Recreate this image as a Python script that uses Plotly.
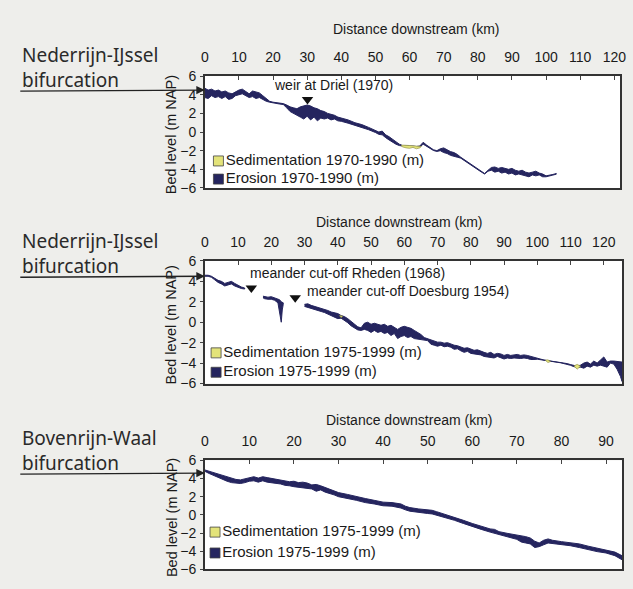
import plotly.graph_objects as go

W, H = 633, 589

# ---------------- Panel 1: Nederrijn-IJssel, 1970-1990 ----------------
km_1 = [0, 1, 2, 3, 4, 5, 6, 7, 8, 9, 10, 11, 12, 13, 14, 15, 16, 17, 18, 19,
        20, 21, 22, 23, 24, 25, 26, 27, 28, 29, 30, 31, 32, 33, 34, 35, 36, 37, 38, 39,
        40, 42, 44, 45, 46, 48, 50, 51, 52, 53, 54, 55, 56, 57, 58, 59, 60, 61, 62, 63,
        64, 65, 66, 67, 68, 69, 70, 71, 72, 73, 74, 75, 76, 77, 78, 79, 80, 81, 82, 83,
        84, 85, 86, 87, 88, 89, 90, 91, 92, 93, 94, 95, 96, 97, 98, 99, 100, 101, 102, 103]
top_1 = [4.7, 4.5, 4.6, 4.4, 4.5, 4.3, 4.4, 4.2, 4.1, 4.3, 4.5, 4.6, 4.3, 4.1, 4.4, 4.3, 4.2, 3.9, 3.6, 3.3,
         3.2, 3.15, 3.1, 3.05, 2.9, 2.7, 2.6, 2.5, 2.7, 2.8, 2.9, 2.8, 2.6, 2.5, 2.3, 2.2, 2.0, 1.9, 1.8, 1.6,
         1.5, 1.3, 1.0, 0.9, 0.8, 0.5, 0.2, 0.0, 0.1, -0.3, -0.5, -0.8, -1.0, -1.3, -1.45, -1.5, -1.5, -1.5, -1.55, -1.5,
         -1.1, -1.4, -1.7, -1.9, -2.0, -1.8, -1.7, -1.9, -2.1, -2.2, -2.4, -2.7, -2.95, -3.2, -3.45, -3.7, -3.95, -4.2, -4.45, -4.1,
         -3.8, -3.75, -3.9, -3.8, -3.9, -4.0, -3.9, -4.1, -4.2, -4.1, -4.3, -4.4, -4.3, -4.2, -4.4, -4.5, -4.7, -4.65, -4.55, -4.45]
bot_1 = [3.7, 3.6, 3.9, 3.7, 3.8, 3.6, 3.8, 3.5, 3.6, 3.9, 4.0, 4.1, 3.9, 3.7, 3.8, 3.6, 3.7, 3.5, 3.3, 3.2,
         3.1, 3.05, 3.0, 2.95, 2.6, 2.2, 2.0, 1.8, 1.6, 1.4, 1.7, 1.3, 1.6, 1.2, 1.5, 1.4, 1.5, 1.3, 1.4, 1.2,
         1.15, 0.95, 0.75, 0.6, 0.5, 0.25, -0.05, -0.25, -0.3, -0.6, -0.85, -1.1, -1.3, -1.45, -1.5, -1.55, -1.55, -1.55, -1.6, -1.6,
         -1.3, -1.5, -1.78, -1.98, -2.08, -2.0, -2.2, -2.3, -2.5, -2.6, -2.7, -2.8, -3.03, -3.28, -3.53, -3.78, -4.03, -4.28, -4.5, -4.2,
         -4.1, -4.3, -4.2, -4.4, -4.3, -4.5, -4.4, -4.6, -4.5, -4.6, -4.7, -4.8, -4.6, -4.7, -4.6, -4.8, -4.8, -4.72, -4.62, -4.52]
sed_km_1 = [57.5, 58, 59, 60, 61, 62, 63, 63.5]
sed_top_1 = [-1.45, -1.4, -1.42, -1.45, -1.4, -1.45, -1.5, -1.55]
sed_bot_1 = [-1.45, -1.6, -1.7, -1.75, -1.65, -1.8, -1.7, -1.55]

# ---------------- Panel 2: Nederrijn-IJssel, 1975-1999 (None = no data) ----------------
km_2 = [0, 1, 2, 3, 4, 5, 6, 7, 8, 9, 10, 11, 12, None,
        17.5, 18, 19, 20, 21, 22, 22.5, 23, 23.3, 23.6, None,
        30, 31, 32, 33, 34, 35, 36, 37, 38, 39, 40, 41, 42, 43, 44, 45, 46, 47, 48, 49,
        50, 51, 52, 53, 54, 55, 56, 57, 58, 59, 60, 61, 62, 63, 64, 65, 66, 67, 68, 69,
        70, 71, 72, 73, 74, 75, 76, 77, 78, 79, 80, 81, 82, 83, 84, 85, 86, 87, 88, 89,
        90, 91, 92, 93, 94, 95, 96, 97, 98, 99, 100, 101, 102, 103, 104, 105, 106, 107, 108, 109,
        110, 111, 112, 113, 114, 115, 116, 117, 118, 119, 120, 121, 122, 123, 124, 125, 125.5]
top_2 = [4.6, 4.6, 4.5, 4.3, 4.1, 4.0, 3.8, 3.9, 4.0, 3.8, 3.6, 3.45, 3.35, None,
         2.55, 2.5, 2.45, 2.5, 2.4, 2.3, 2.2, 2.0, 1.9, 1.9, None,
         1.75, 1.8, 1.65, 1.55, 1.5, 1.4, 1.25, 1.15, 1.0, 0.9, 0.85, 0.65, 0.55, 0.35, 0.1, -0.2, -0.45, -0.55, -0.1, 0.0,
         -0.2, -0.1, -0.2, -0.3, -0.2, -0.4, -0.3, -0.5, -0.7, -0.5, -0.4, -0.5, -0.6, -0.8, -1.0, -1.2, -1.5, -1.6, -1.75, -1.85,
         -1.95, -1.95, -2.05, -2.0, -2.15, -2.25, -2.3, -2.45, -2.55, -2.5, -2.65, -2.75, -2.7, -2.85, -2.95, -3.05, -2.95, -3.15, -3.05, -3.1,
         -3.25, -3.15, -3.25, -3.2, -3.15, -3.25, -3.2, -3.25, -3.35, -3.45, -3.55, -3.6, -3.7, -3.75, -3.8, -3.8, -3.85, -3.9, -3.95, -4.05,
         -4.15, -4.25, -4.3, -4.2, -4.0, -3.9, -4.1, -3.8, -4.0, -3.7, -3.4, -3.9, -3.8, -3.8, -3.85, -3.85, -3.9]
bot_2 = [4.5, 4.5, 4.4, 4.15, 3.9, 3.75, 3.55, 3.65, 3.75, 3.55, 3.4, 3.3, 3.25, None,
         2.4, 2.3, 2.25, 2.25, 2.15, 1.9, 0.8, 0.0, 1.2, 1.75, None,
         1.55, 1.45, 1.35, 1.25, 1.15, 1.05, 0.95, 0.85, 0.7, 0.5, 0.35, 0.4, 0.15, -0.05, -0.35, -0.55, -0.75, -0.8, -0.7, -0.8,
         -1.0, -0.8, -1.0, -0.9, -1.1, -1.0, -1.3, -1.1, -1.6, -1.4, -1.3, -1.5, -1.4, -1.6, -1.6, -1.65, -1.75, -1.8, -2.15, -2.25,
         -2.35, -2.25, -2.4, -2.35, -2.45, -2.65, -2.6, -2.8, -2.95, -2.85, -3.05, -3.1, -3.15, -3.2, -3.35, -3.4, -3.45, -3.5, -3.35, -3.45,
         -3.6, -3.5, -3.55, -3.5, -3.5, -3.55, -3.5, -3.55, -3.65, -3.65, -3.62, -3.67, -3.77, -3.82, -3.87, -3.87, -3.92, -3.97, -4.02, -4.12,
         -4.22, -4.35, -4.4, -4.4, -4.5, -4.3, -4.4, -4.2, -4.3, -4.2, -4.3, -4.4, -4.0, -4.1, -4.6, -5.3, -5.8]
sed_km_2 = [40.5, 41.0, 41.5, None, 102.4, 103.2, 104.0, None, 111.0, 112.0, 113.0]
sed_top_2 = [0.65, 0.65, 0.6, None, -3.72, -3.68, -3.85, None, -4.28, -4.12, -4.3]
sed_bot_2 = [0.65, 0.45, 0.6, None, -3.72, -3.95, -3.85, None, -4.28, -4.6, -4.3]

# ---------------- Panel 3: Bovenrijn-Waal, 1975-1999 ----------------
km_3 = [0, 1, 2, 3, 4, 5, 6, 7, 8, 9, 10, 11, 12, 13, 14, 15, 16, 17, 18, 19,
        20, 21, 22, 23, 24, 25, 26, 27, 28, 29, 30, 32, 34, 36, 38, 40, 42, 44, 45, 46,
        48, 50, 51, 52, 54, 56, 58, 60, 62, 64, 65, 66, 68, 70, 71, 72, 73, 74, 75, 76,
        77, 78, 80, 82, 84, 86, 88, 90, 92, 93.6]
top_3 = [4.95, 4.8, 4.6, 4.45, 4.3, 4.15, 4.0, 3.9, 3.85, 3.95, 4.1, 4.2, 4.05, 4.2, 4.1, 4.0, 3.9, 3.8, 3.75, 3.65,
         3.7, 3.55, 3.6, 3.5, 3.3, 3.35, 3.2, 3.0, 2.8, 2.6, 2.45, 2.25, 2.0, 1.8, 1.6, 1.4, 1.35, 1.2, 0.95, 0.8,
         0.65, 0.6, 0.5, 0.35, 0.05, -0.3, -0.6, -0.95, -1.25, -1.55, -1.6, -1.85, -2.05, -2.2, -2.3, -2.4, -2.55, -2.9, -3.1, -2.8,
         -2.65, -2.8, -2.95, -3.05, -3.2, -3.45, -3.65, -3.85, -4.1, -4.5]
bot_3 = [4.8, 4.55, 4.3, 4.1, 3.9, 3.7, 3.55, 3.5, 3.45, 3.55, 3.7, 3.75, 3.6, 3.75, 3.6, 3.5, 3.45, 3.4, 3.25, 3.2,
         3.1, 3.05, 2.95, 2.9, 2.85, 2.6, 2.75, 2.5, 2.35, 2.2, 2.0, 1.8, 1.6, 1.35, 1.2, 1.0, 0.95, 0.75, 0.55, 0.4,
         0.25, 0.15, 0.1, -0.05, -0.3, -0.6, -0.95, -1.3, -1.6, -1.9, -2.1, -2.2, -2.45, -2.7, -3.0, -3.1, -3.2, -3.6, -3.5, -3.3,
         -3.1, -3.15, -3.3, -3.4, -3.6, -3.8, -4.05, -4.2, -4.5, -4.95]

# ---------------- Text / ticks ----------------
ticks_1 = [0, 10, 20, 30, 40, 50, 60, 70, 80, 90, 100, 110, 120]
ticks_2 = [0, 10, 20, 30, 40, 50, 60, 70, 80, 90, 100, 110, 120]
ticks_3 = [0, 10, 20, 30, 40, 50, 60, 70, 80, 90]
y_ticks = [-6, -4, -2, 0, 2, 4, 6]
headings = [("Nederrijn-IJssel", "bifurcation"), ("Nederrijn-IJssel", "bifurcation"),
            ("Bovenrijn-Waal", "bifurcation")]
legend_sed = ["Sedimentation 1970-1990 (m)", "Sedimentation 1975-1999 (m)", "Sedimentation 1975-1999 (m)"]
legend_ero = ["Erosion 1970-1990 (m)", "Erosion 1975-1999 (m)", "Erosion 1975-1999 (m)"]

BG = "#eeeeeb"
NAVY = "#25255f"
YELLOW = "#e3e37a"
TXT = "#1a1a1a"
FONT = "Liberation Sans, Arial, sans-serif"
HFONT = "Noto Sans, Open Sans, sans-serif"

# panel geometry in window pixels (left, right, top, bottom)
boxes = [(204, 626, 70, 185), (204, 628, 260, 386), (204, 628, 465, 577)]
xmax = [121.7, 125.5, 93.6]


def px(x):
    return x / W


def py(y):
    return 1 - y / H


def segments(xs, ts, bs):
    out, cx, ct, cb = [], [], [], []
    for x, t, b in zip(xs, ts, bs):
        if x is None:
            if cx:
                out.append((cx, ct, cb))
            cx, ct, cb = [], [], []
        else:
            cx.append(x); ct.append(t); cb.append(b)
    if cx:
        out.append((cx, ct, cb))
    return out


def polygon(xs, ts, bs):
    return xs + xs[::-1], ts + bs[::-1]


fig = go.Figure()

panels = [
    (km_1, top_1, bot_1, sed_km_1, sed_top_1, sed_bot_1),
    (km_2, top_2, bot_2, sed_km_2, sed_top_2, sed_bot_2),
    (km_3, top_3, bot_3, [], [], []),
]

for i, (kx, kt, kb, sx, st, sb) in enumerate(panels):
    xa = "x" if i == 0 else f"x{i+1}"
    ya = "y" if i == 0 else f"y{i+1}"
    for seg in segments(kx, kt, kb):
        X, Y = polygon(*seg)
        fig.add_trace(go.Scatter(x=X, y=Y, fill="toself", fillcolor=NAVY, mode="lines",
                                 line=dict(color=NAVY, width=1), xaxis=xa, yaxis=ya,
                                 hoverinfo="skip", showlegend=False))
    for seg in segments(sx, st, sb):
        X, Y = polygon(*seg)
        fig.add_trace(go.Scatter(x=X, y=Y, fill="toself", fillcolor=YELLOW, mode="lines",
                                 line=dict(color="#8a8a40", width=0.6), xaxis=xa, yaxis=ya,
                                 hoverinfo="skip", showlegend=False))

# legend-like markers
leg_pos = [(4.0, -3.1, -5.05), (3.4, -3.0, -4.9), (2.3, -1.9, -4.2)]
for i, (lx, ly1, ly2) in enumerate(leg_pos):
    xa = "x" if i == 0 else f"x{i+1}"
    ya = "y" if i == 0 else f"y{i+1}"
    fig.add_trace(go.Scatter(x=[lx, lx], y=[ly1, ly2], mode="markers+text",
                             marker=dict(symbol="square", size=10, color=[YELLOW, NAVY],
                                         line=dict(color="#444", width=0.8)),
                             text=[legend_sed[i], legend_ero[i]], textposition="middle right",
                             textfont=dict(family=FONT, size=15, color=TXT),
                             xaxis=xa, yaxis=ya, hoverinfo="skip", showlegend=False))

# event markers (triangles)
ev_x = [30.1, 14.0, 27.2]
ev_y = [3.5, 3.35, 2.4]
ev_ax = ["x", "x2", "x2"]
ev_ay = ["y", "y2", "y2"]
for x, y, xa, ya in zip(ev_x, ev_y, ev_ax, ev_ay):
    fig.add_trace(go.Scatter(x=[x], y=[y], mode="markers",
                             marker=dict(symbol="triangle-down", size=10, color="#111"),
                             xaxis=xa, yaxis=ya, hoverinfo="skip", showlegend=False))

layout = dict(width=W, height=H, margin=dict(l=0, r=0, t=0, b=0),
              paper_bgcolor=BG, plot_bgcolor="white", showlegend=False)

tick_sets = [ticks_1, ticks_2, ticks_3]
for i, (l, r, t, b) in enumerate(boxes):
    xk = "xaxis" if i == 0 else f"xaxis{i+1}"
    yk = "yaxis" if i == 0 else f"yaxis{i+1}"
    ya = "y" if i == 0 else f"y{i+1}"
    xa = "x" if i == 0 else f"x{i+1}"
    layout[xk] = dict(domain=[px(l), px(r)], anchor=ya, side="top", range=[0, xmax[i]],
                      tickvals=tick_sets[i], ticks="inside", ticklen=4, tickcolor="#444",
                      showline=True, mirror=True, linecolor="#333", linewidth=1.5,
                      showgrid=False, zeroline=False, ticklabelstandoff=7,
                      tickfont=dict(family=FONT, size=14, color=TXT))
    layout[yk] = dict(domain=[py(b), py(t)], anchor=xa, range=[-6, 6], tickvals=y_ticks,
                      ticks="outside", ticklen=3, tickcolor="#444",
                      showline=True, mirror=True, linecolor="#333", linewidth=1.5,
                      showgrid=False, zeroline=False, ticklabelstandoff=1,
                      tickfont=dict(family=FONT, size=14, color=TXT))

fig.update_layout(**layout)

# annotations
title_x = [62.0, 58.5, 45.9]
title_y = [22, 220, 423]
head_y = [61, 252, 455]       # vertical centre of the two-line heading
arrow_y = [4.5, 4.5, 4.6]
for i, (l, r, t, b) in enumerate(boxes):
    xa = "x" if i == 0 else f"x{i+1}"
    ya = "y" if i == 0 else f"y{i+1}"
    fig.add_annotation(text="Distance downstream (km)", x=title_x[i], xref=xa,
                       y=py(title_y[i]), yref="paper", showarrow=False,
                       font=dict(family=FONT, size=14, color=TXT), xanchor="center", yanchor="middle")
    fig.add_annotation(text="Bed level (m NAP)", x=px(170), xref="paper",
                       y=py((t + b) / 2 + 3), yref="paper", showarrow=False, textangle=-90,
                       font=dict(family=FONT, size=14.5, color=TXT), xanchor="center", yanchor="middle")
    fig.add_annotation(text=headings[i][0] + "<br>" + headings[i][1], x=px(16), xref="paper",
                       y=py(head_y[i]), yref="paper", showarrow=False, xanchor="left",
                       yanchor="middle", align="left",
                       font=dict(family=HFONT, size=19, color="#2a2a2a"))
    # horizontal leader line from the heading to the arrow at the bifurcation level
    fig.add_annotation(text="", x=0, y=arrow_y[i], xref=xa, yref=ya, showarrow=True,
                       ax=18 - l, ay=1, arrowhead=2, arrowsize=1.3, arrowwidth=1.3,
                       arrowcolor="#222", standoff=0)

notes = [("weir at Driel (1970)", 37.7, 5.0, "x", "y", "center"),
         ("meander cut-off Rheden (1968)", 13.0, 4.85, "x2", "y2", "left"),
         ("meander cut-off Doesburg 1954)", 30.1, 3.1, "x2", "y2", "left")]
for txt, x, y, xa, ya, anc in notes:
    fig.add_annotation(text=txt, x=x, y=y, xref=xa, yref=ya, showarrow=False,
                       xanchor=anc, yanchor="middle",
                       font=dict(family=FONT, size=14, color=TXT))

# remove the browser's default page margin so the figure fills the window
page_js = ("document.body.style.margin='0';"
           "document.body.style.background='" + BG + "';")
fig.write_html("out.html", post_script=page_js, config={"displayModeBar": False})
